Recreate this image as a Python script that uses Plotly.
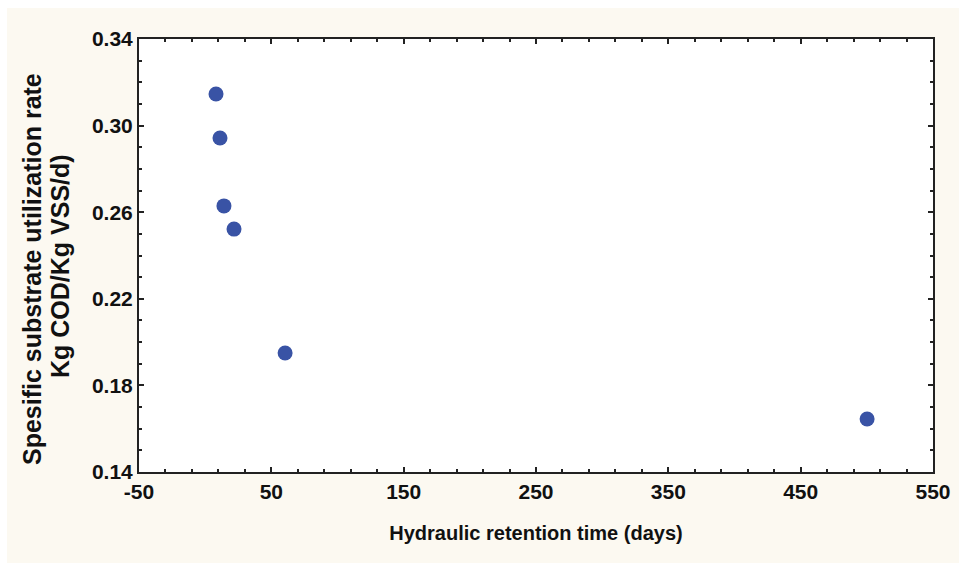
import plotly.graph_objects as go

hrt_days = [8.2, 11.2, 14.2, 21.8, 60.4, 500.2]
sur = [0.3146, 0.2943, 0.2629, 0.2522, 0.1950, 0.1645]

x_ticks = [-50, 50, 150, 250, 350, 450, 550]
y_ticks = [0.14, 0.18, 0.22, 0.26, 0.30, 0.34]

x_title = "Hydraulic retention time (days)"
y_title_lines = ["Spesific substrate utilization rate", "Kg COD/Kg VSS/d)"]

font_family = "Liberation Sans, Arial, sans-serif"
ink = "#111111"
cream = "#fcf9f1"

fig = go.Figure()
fig.add_trace(go.Scatter(
    x=hrt_days, y=sur, mode="markers",
    marker=dict(size=15, color="#3953a5", line=dict(width=0)),
    showlegend=False,
))

axis_common = dict(
    showline=True, linecolor="#222222", linewidth=2, mirror="allticks",
    ticks="inside", ticklen=5, tickwidth=1.5, tickcolor="#222222",
    showgrid=False, zeroline=False,
    tickfont=dict(family=font_family, size=21, color=ink, weight="bold"),
)

fig.update_xaxes(
    range=[-50, 550], tickmode="array", tickvals=x_ticks,
    ticktext=[str(v) for v in x_ticks],
    minor=dict(dtick=20, tick0=-50, ticks="inside", ticklen=3, tickcolor="#222222", tickwidth=1.5),
    title=dict(text=x_title, standoff=24,
               font=dict(family=font_family, size=20, color=ink, weight="bold")),
    **axis_common,
)
fig.update_yaxes(
    range=[0.14, 0.34], tickmode="array", tickvals=y_ticks,
    ticktext=[f"{v:.2f}" for v in y_ticks],
    minor=dict(dtick=0.01, tick0=0.14, ticks="inside", ticklen=3, tickcolor="#222222", tickwidth=1.5),
    **axis_common,
)

# y-axis title as two rotated lines
L_px, T_px, W_plot, H_plot = 131, 31, 959 - 131 - 34, 563 - 31 - 99
def paper_x(px):
    return (px - 8 - L_px) / W_plot
def paper_y(py):
    return (T_px + 8 + H_plot - py) / H_plot

for txt, cx, cy in [(y_title_lines[0], 32, 269), (y_title_lines[1], 60, 266)]:
    fig.add_annotation(
        text=txt, xref="paper", yref="paper", x=paper_x(cx), y=paper_y(cy),
        xanchor="center", yanchor="middle", textangle=-90, showarrow=False,
        font=dict(family=font_family, size=25, color=ink, weight="bold"),
    )

fig.update_layout(
    width=959, height=563,
    margin=dict(l=L_px, r=34, t=T_px, b=99),
    paper_bgcolor=cream, plot_bgcolor="white",
    font=dict(family=font_family),
)

fig.write_html(
    "out.html",
    post_script=(
        "document.documentElement.style.overflow='hidden';"
        "document.documentElement.style.background="
        "'linear-gradient(to right, #ffffff 7px, rgba(0,0,0,0) 7px), "
        "linear-gradient(to bottom, #ffffff 8px, " + cream + " 8px)';"
    ),
)
